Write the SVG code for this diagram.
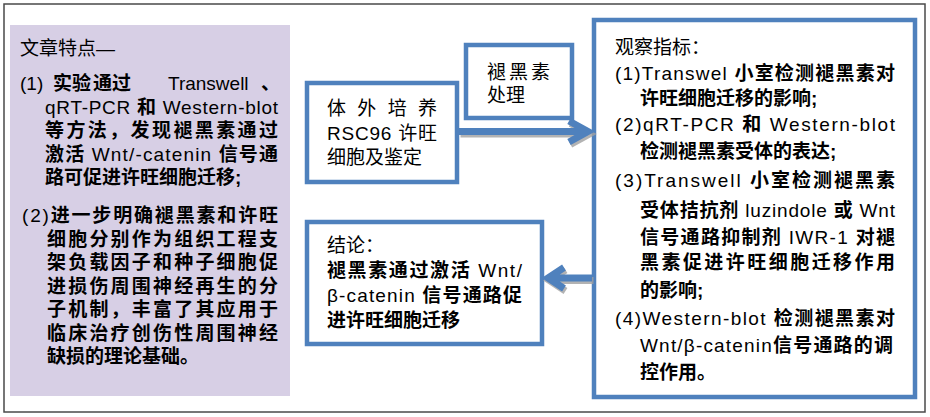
<svg xmlns="http://www.w3.org/2000/svg" width="930" height="417" viewBox="0 0 930 417">
<style>
.frame{fill:#fff;stroke:#4a4a4a;stroke-width:1.5}
.panel{fill:#D7CFE5;stroke:none}
.box{fill:#fff;stroke:#4F81BD;stroke-width:4.5}
.t{font-family:"Liberation Sans","Noto Sans CJK SC",sans-serif;font-size:19px;fill:#000}
.b{font-weight:700}
.arrow{fill:none;stroke:#4F81BD;stroke-width:7;stroke-linejoin:miter}
.shadow{fill:none;stroke:#a0a0a0;stroke-width:7;stroke-linejoin:miter;opacity:0.8}
</style>
<rect class="frame" x="4" y="4" width="921" height="408"/>

<g id="node-features">
<rect class="panel" x="10" y="25" width="280" height="371"/>
<text class="t" x="20" y="55">文章特点—</text>
<text class="t" y="90"><tspan x="20">(1)</tspan><tspan class="b" x="53">实</tspan><tspan class="b" x="72">验</tspan><tspan class="b" x="93">通</tspan><tspan class="b" x="112">过</tspan><tspan x="168">Transwell</tspan><tspan class="b" x="261">、</tspan></text>
<text class="t" x="45" y="113.5" textLength="233" lengthAdjust="spacing">qRT-PCR <tspan class="b">和</tspan> Western-blot</text>
<text class="t b" x="45" y="137" textLength="233" lengthAdjust="spacing">等方法，发现褪黑素通过</text>
<text class="t" x="45" y="160.5" textLength="233" lengthAdjust="spacing"><tspan class="b">激活</tspan> Wnt/-catenin <tspan class="b">信号通</tspan></text>
<text class="t b" x="45" y="184">路可促进许旺细胞迁移;</text>
<text class="t" x="22" y="222" textLength="256" lengthAdjust="spacing">(2)<tspan class="b">进一步明确褪黑素和许旺</tspan></text>
<text class="t b" x="47" y="245.5" textLength="231" lengthAdjust="spacing">细胞分别作为组织工程支</text>
<text class="t b" x="47" y="269" textLength="231" lengthAdjust="spacing">架负载因子和种子细胞促</text>
<text class="t b" x="47" y="292.5" textLength="231" lengthAdjust="spacing">进损伤周围神经再生的分</text>
<text class="t b" x="47" y="316" textLength="231" lengthAdjust="spacing">子机制，丰富了其应用于</text>
<text class="t b" x="47" y="339.5" textLength="231" lengthAdjust="spacing">临床治疗创伤性周围神经</text>
<text class="t b" x="47" y="363">缺损的理论基础。</text>
</g>

<g id="node-culture">
<rect class="box" x="307" y="83" width="150" height="99"/>
<text class="t" x="327" y="115" textLength="110" lengthAdjust="spacing">体外培养</text>
<text class="t" x="327" y="140" textLength="110" lengthAdjust="spacing">RSC96 许旺</text>
<text class="t" x="327" y="164">细胞及鉴定</text>
</g>

<g id="node-melatonin">
<rect class="box" x="466" y="45" width="106" height="73"/>
<text class="t" x="487" y="79" textLength="63" lengthAdjust="spacing">褪黑素</text>
<text class="t" x="487" y="102">处理</text>
</g>

<g id="node-observe">
<rect class="box" x="594" y="20" width="321" height="377"/>
<text class="t" x="615" y="54">观察指标：</text>
<text class="t" x="615" y="80" textLength="280" lengthAdjust="spacing">(1)Transwel <tspan class="b">小室检测褪黑素对</tspan></text>
<text class="t b" x="640" y="105">许旺细胞迁移的影响;</text>
<text class="t" x="615" y="131" textLength="280" lengthAdjust="spacing">(2)qRT-PCR  <tspan class="b">和</tspan>  Western-blot</text>
<text class="t b" x="640" y="158">检测褪黑素受体的表达;</text>
<text class="t" x="615" y="187" textLength="280" lengthAdjust="spacing">(3)Transwell  <tspan class="b">小室检测褪黑素</tspan></text>
<text class="t" x="640" y="217" textLength="255" lengthAdjust="spacing"><tspan class="b">受体拮抗剂</tspan> luzindole <tspan class="b">或</tspan> Wnt</text>
<text class="t" x="640" y="244" textLength="255" lengthAdjust="spacing"><tspan class="b">信号通路抑制剂</tspan> IWR-1 <tspan class="b">对褪</tspan></text>
<text class="t b" x="640" y="269" textLength="255" lengthAdjust="spacing">黑素促进许旺细胞迁移作用</text>
<text class="t b" x="640" y="297">的影响;</text>
<text class="t" x="615" y="325" textLength="280" lengthAdjust="spacing">(4)Western-blot  <tspan class="b">检测褪黑素对</tspan></text>
<text class="t" x="640" y="352" textLength="253" lengthAdjust="spacing">Wnt/β-catenin<tspan class="b">信号通路的调</tspan></text>
<text class="t b" x="640" y="379">控作用。</text>
</g>

<g id="node-conclusion">
<rect class="box" x="307" y="222" width="235" height="122"/>
<text class="t" x="327" y="252">结论：</text>
<text class="t" x="327" y="277" textLength="195" lengthAdjust="spacing"><tspan class="b">褪黑素通过激活</tspan> Wnt/</text>
<text class="t" x="327" y="302" textLength="195" lengthAdjust="spacing">β-catenin <tspan class="b">信号通路促</tspan></text>
<text class="t b" x="327" y="327">进许旺细胞迁移</text>
</g>

<g id="connectors">
<g transform="translate(1.5,2.5)">
<path class="shadow" d="M459,131.5 H586 M569,121 L588,131.5 L569,142"/>
<path class="shadow" d="M592,278 H552 M564,267.5 L548,278 L564,288.5"/>
</g>
<path class="arrow" d="M459,131.5 H586 M569,121 L588,131.5 L569,142"/>
<path class="arrow" d="M592,278 H552 M564,267.5 L548,278 L564,288.5"/>
</g>
</svg>
